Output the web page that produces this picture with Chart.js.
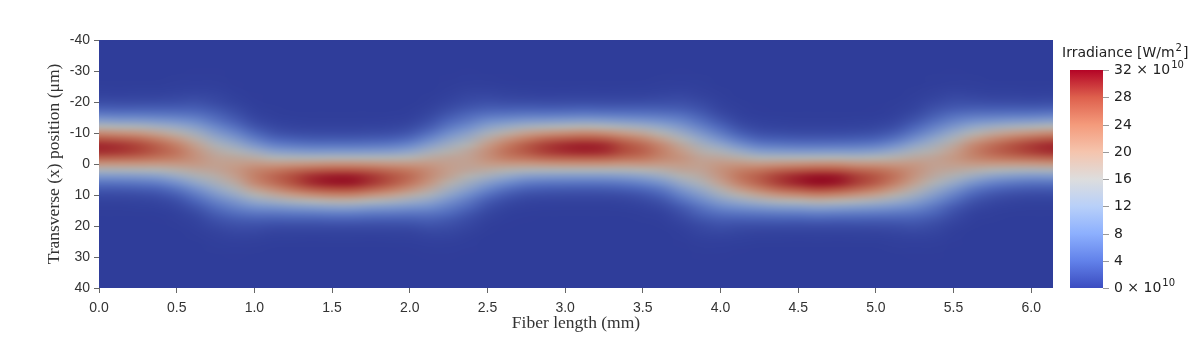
<!DOCTYPE html>
<html>
<head>
<meta charset="utf-8">
<script src="https://cdn.jsdelivr.net/npm/chart.js@4.4.0/dist/chart.umd.min.js"></script>
<style>
  html, body { margin: 0; padding: 0; background: #fff; }
  #wrap { width: 1196px; height: 338px; }
</style>
</head>
<body>
<div id="wrap"><canvas id="heat" width="1196" height="338"></canvas></div>
<script>
// one heatmap column per fiber length sample (mm)
const fiberLength = [0.000, 0.125, 0.250, 0.375, 0.500, 0.625, 0.750, 0.875, 1.000, 1.125,
                     1.250, 1.375, 1.500, 1.625, 1.750, 1.875, 2.000, 2.125, 2.250, 2.375,
                     2.500, 2.625, 2.750, 2.875, 3.000, 3.125, 3.250, 3.375, 3.500, 3.625,
                     3.750, 3.875, 4.000, 4.125, 4.250, 4.375, 4.500, 4.625, 4.750, 4.875,
                     5.000, 5.125, 5.250, 5.375, 5.500, 5.625, 5.750, 5.875, 6.000, 6.125];

// where the beam sits (um)
const beamCenter = [-5.2, -5.1, -5.0, -4.7, -4.0, -2.6, -0.3, 1.8, 3.6, 4.5,
                    4.9, 5.1, 5.2, 5.2, 5.0, 4.8, 4.3, 3.2, 1.2, -1.0,
                    -3.1, -4.2, -4.8, -5.0, -5.1, -5.2, -5.1, -4.9, -4.5, -3.7,
                    -2.0, 0.3, 2.5, 3.9, 4.7, 5.0, 5.1, 5.2, 5.1, 5.0,
                    4.7, 4.0, 2.6, 0.4, -2.0, -3.7, -4.5, -4.9, -5.1, -5.2];

// peak irradiance of each column (x 1e10 W/m^2)
const peakIrradiance = [30.5, 30.0, 29.0, 27.0, 24.5, 21.5, 19.5, 20.5, 23.5, 26.0,
                        28.5, 30.5, 31.5, 31.5, 30.0, 28.0, 25.5, 22.5, 20.0, 19.5,
                        22.0, 25.0, 27.5, 29.5, 30.5, 31.0, 30.5, 28.5, 26.5, 23.5,
                        21.0, 19.5, 21.5, 24.5, 27.0, 29.5, 31.0, 32.0, 31.5, 29.5,
                        27.5, 24.5, 21.5, 19.5, 20.5, 23.5, 26.0, 28.0, 29.5, 30.5];

// how much wider the beam is than at the focused spots
const beamWidth = [1.00, 1.00, 1.02, 1.06, 1.15, 1.30, 1.40, 1.35, 1.20, 1.08,
                   1.03, 1.00, 1.00, 1.00, 1.01, 1.04, 1.10, 1.25, 1.38, 1.38,
                   1.25, 1.12, 1.05, 1.01, 1.00, 1.00, 1.00, 1.03, 1.08, 1.18,
                   1.33, 1.40, 1.30, 1.15, 1.06, 1.02, 1.00, 1.00, 1.00, 1.02,
                   1.06, 1.15, 1.30, 1.40, 1.33, 1.18, 1.08, 1.03, 1.00, 1.00];

// transverse cut at 0 mm: distance from centre (um) -> fraction of the peak
const profileOffset = [0, 2, 4, 6, 8, 10, 12, 14, 16, 18, 20, 22, 24];
const profileLevel = [1.0, 0.95, 0.80, 0.61, 0.41, 0.25, 0.135, 0.066, 0.028, 0.011, 0.004, 0.001, 0.0];

// heatmap rows (um)
const transverse = [-40, -38, -36, -34, -32, -30, -28, -26, -24, -22, -20, -18, -16, -14, -12, -10, -8, -6, -4, -2,
                    0, 2, 4, 6, 8, 10, 12, 14, 16, 18, 20, 22, 24, 26, 28, 30, 32, 34, 36, 38, 40];

const xTicks = [0.0, 0.5, 1.0, 1.5, 2.0, 2.5, 3.0, 3.5, 4.0, 4.5, 5.0, 5.5, 6.0];
const yTicks = [-40, -30, -20, -10, 0, 10, 20, 30, 40];
const cbTicks = [0, 4, 8, 12, 16, 20, 24, 28, 32];
const cbMax = 32;
const xMax = 6.14;

// cool to warm colour map
const cmapStops = [0, 0.125, 0.25, 0.375, 0.5, 0.625, 0.75, 0.875, 1];
const cmapColors = [[59, 76, 192], [98, 130, 234], [141, 176, 254], [184, 208, 249], [221, 221, 221],
                    [245, 196, 173], [244, 154, 123], [222, 96, 77], [180, 4, 38]];
const shade = 0.8; // the rendered surface is darker than the legend

function coolWarm(t) {
    t = Math.max(0, Math.min(1, t));
    let k = 0;
    while (k < cmapStops.length - 2 && t > cmapStops[k + 1]) k++;
    const f = (t - cmapStops[k]) / (cmapStops[k + 1] - cmapStops[k]);
    const a = cmapColors[k], b = cmapColors[k + 1];
    return [a[0] + (b[0] - a[0]) * f, a[1] + (b[1] - a[1]) * f, a[2] + (b[2] - a[2]) * f];
}

function profileAt(d) {
    const last = profileOffset.length - 1;
    if (d >= profileOffset[last]) return profileLevel[last];
    let k = 0;
    while (profileOffset[k + 1] < d) k++;
    const f = (d - profileOffset[k]) / (profileOffset[k + 1] - profileOffset[k]);
    return profileLevel[k] + (profileLevel[k + 1] - profileLevel[k]) * f;
}

const heatmapPlugin = {
    id: "heatmap",
    beforeDatasetsDraw(chart) {
        const { ctx, chartArea: a, scales: { x, y } } = chart;
        const nx = fiberLength.length, ny = transverse.length;
        const off = document.createElement("canvas");
        off.width = nx;
        off.height = ny;
        const octx = off.getContext("2d");
        const img = octx.createImageData(nx, ny);
        for (let i = 0; i < nx; i++) {
            for (let j = 0; j < ny; j++) {
                const d = Math.abs(transverse[j] - beamCenter[i]) / beamWidth[i];
                const c = coolWarm(peakIrradiance[i] * profileAt(d) / cbMax);
                const k = (j * nx + i) * 4;
                img.data[k] = c[0] * shade;
                img.data[k + 1] = c[1] * shade;
                img.data[k + 2] = c[2] * shade;
                img.data[k + 3] = 255;
            }
        }
        octx.putImageData(img, 0, 0);

        const dx = fiberLength[1] - fiberLength[0];
        const dy = transverse[1] - transverse[0];
        const x0 = x.getPixelForValue(fiberLength[0] - dx / 2);
        const x1 = x.getPixelForValue(fiberLength[nx - 1] + dx / 2);
        const y0 = y.getPixelForValue(transverse[0] - dy / 2);
        const y1 = y.getPixelForValue(transverse[ny - 1] + dy / 2);

        ctx.save();
        ctx.beginPath();
        ctx.rect(a.left, a.top, a.right - a.left, a.bottom - a.top);
        ctx.clip();
        ctx.imageSmoothingEnabled = true;
        ctx.imageSmoothingQuality = "high";
        ctx.drawImage(off, x0, y0, x1 - x0, y1 - y0);
        ctx.restore();
    }
};

function drawPower(ctx, base, x, y, font, supFont) {
    ctx.font = font;
    ctx.fillText(base, x, y);
    const w = ctx.measureText(base).width;
    ctx.font = supFont;
    ctx.fillText("10", x + w + 1, y - 5);
}

const colorbarPlugin = {
    id: "colorbar",
    afterDraw(chart) {
        const { ctx, chartArea: a } = chart;
        const left = a.right + 17, width = 33;
        const top = a.top + 30, bottom = a.bottom;

        const g = ctx.createLinearGradient(0, bottom, 0, top);
        cmapStops.forEach((s, k) => {
            const c = cmapColors[k];
            g.addColorStop(s, `rgb(${c[0]},${c[1]},${c[2]})`);
        });
        ctx.save();
        ctx.fillStyle = g;
        ctx.fillRect(left, top, width, bottom - top);

        ctx.strokeStyle = "#999";
        ctx.lineWidth = 1;
        ctx.fillStyle = "#222";
        ctx.textBaseline = "middle";
        ctx.textAlign = "left";
        const font = '14px "DejaVu Sans"';
        const supFont = '10px "DejaVu Sans"';
        cbTicks.forEach(v => {
            const py = Math.round(bottom - (v / cbMax) * (bottom - top)) + 0.5;
            ctx.beginPath();
            ctx.moveTo(left + width, py);
            ctx.lineTo(left + width + 6, py);
            ctx.stroke();
            if (v === 0 || v === cbMax) {
                drawPower(ctx, v + " \u00d7 10", left + width + 11, py, font, supFont);
            } else {
                ctx.font = font;
                ctx.fillText(String(v), left + width + 11, py);
            }
        });

        // legend title
        ctx.textBaseline = "alphabetic";
        ctx.font = font;
        const tx = a.right + 9, ty = a.top + 17;
        const t1 = "Irradiance [W/m";
        ctx.fillText(t1, tx, ty);
        const w = ctx.measureText(t1).width;
        ctx.font = supFont;
        ctx.fillText("2", tx + w + 1, ty - 6);
        const w2 = ctx.measureText("2").width;
        ctx.font = font;
        ctx.fillText("]", tx + w + w2 + 2, ty);
        ctx.restore();
    }
};

const tickFont = { family: '"Liberation Sans", Arial, sans-serif', size: 14 };
const titleFont = { family: '"Liberation Serif", "Times New Roman", serif', size: 17.5 };

new Chart(document.getElementById("heat"), {
    type: "scatter",
    data: { datasets: [] },
    options: {
        responsive: false,
        animation: false,
        layout: { padding: { top: 40, right: 143, left: 0, bottom: 0 } },
        plugins: { legend: { display: false }, tooltip: { enabled: false } },
        scales: {
            x: {
                type: "linear",
                min: 0,
                max: xMax,
                afterFit: s => { s.height = 50; },
                afterBuildTicks: s => { s.ticks = xTicks.map(v => ({ value: v })); },
                border: { display: false },
                grid: { drawOnChartArea: false, drawTicks: true, tickLength: 5, color: "#666" },
                ticks: { font: tickFont, color: "#333", padding: 7, callback: v => v.toFixed(1), maxRotation: 0 },
                title: { display: true, text: "Fiber length (mm)", font: titleFont, color: "#333", padding: { top: 0, bottom: 4 } }
            },
            y: {
                type: "linear",
                min: -40,
                max: 40,
                reverse: true,
                afterFit: s => { s.width = 99; },
                afterBuildTicks: s => { s.ticks = yTicks.map(v => ({ value: v })); },
                border: { display: false },
                grid: { drawOnChartArea: false, drawTicks: true, tickLength: 5, color: "#666" },
                ticks: { font: tickFont, color: "#333", padding: 4 },
                title: { display: true, text: "Transverse (x) position (\u03bcm)", font: titleFont, color: "#333", padding: { top: 44, bottom: 0 } }
            }
        }
    },
    plugins: [heatmapPlugin, colorbarPlugin]
});
</script>
</body>
</html>
